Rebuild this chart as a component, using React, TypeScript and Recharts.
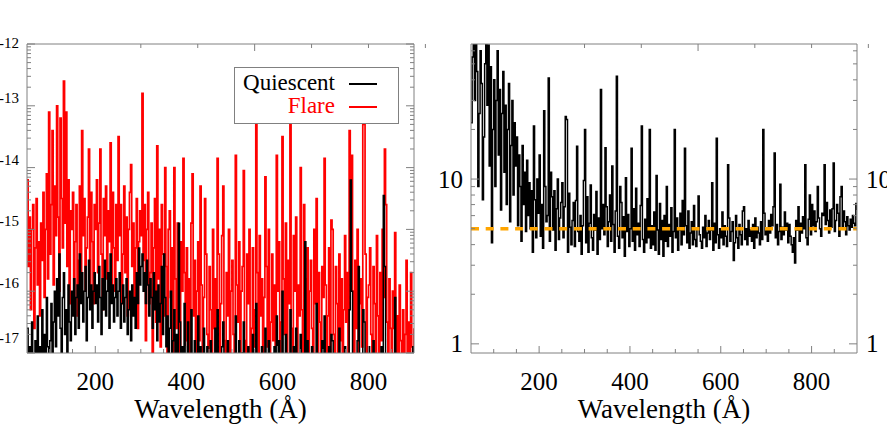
import React from 'react';
import { LineChart, Line, XAxis, YAxis, Label } from 'recharts';

const FONT = '"Liberation Serif", "Times New Roman", Times, serif';
const FRAME = '#808080';

// wavelength grids (Å)
const SPEC_START = 50;
const SPEC_STEP = 2.5;
const RATIO_START = 50;
const RATIO_STEP = 2.5;

// log10 flux, Flare spectrum (50 .. 900 Å, 2.5 Å bins)
const FLARE_LOG = [
  -14.2, -15.6, -14.8, -16.3, -15.0, -14.6, -16.6, -15.3, -14.5, -15.9, -15.2, -16.4, -14.9, -15.5, -14.4, -16.1, -15.0, -14.1, -15.8, -13.1,
  -15.4, -14.6, -13.4, -15.9, -14.3, -15.1, -13.0, -14.8, -16.0, -13.2, -14.5, -15.3, -12.6, -14.9, -13.1, -15.6, -14.2, -16.2, -14.7, -15.0,
  -14.4, -16.1, -15.2, -14.6, -16.4, -15.5, -14.3, -15.8, -13.4, -15.1, -14.5, -16.0, -15.3, -14.8, -13.7, -15.9, -14.4, -15.2, -16.2, -14.6,
  -15.0, -14.2, -15.7, -14.9, -13.7, -15.4, -16.3, -14.5, -15.1, -14.3, -15.8, -14.7, -15.2, -13.6, -15.9, -14.4, -15.3, -16.0, -14.6, -15.5,
  -13.5, -15.1, -14.6, -16.2, -15.4, -14.3, -15.7, -14.8, -16.4, -15.0, -14.4, -13.95, -15.6, -14.9, -16.1, -15.3, -14.5, -16.6, -15.2, -14.7,
  -15.1, -12.8, -15.5, -14.6, -16.8, -15.0, -14.4, -16.2, -15.7, -14.9, -17.3, -15.3, -14.5, -16.5, -13.65, -15.8, -15.0, -16.9, -14.6, -15.4,
  -16.4, -14.0, -15.6, -17.4, -15.0, -14.7, -16.1, -15.3, -17.2, -14.0, -15.8, -16.6, -14.9, -15.5, -17.5, -15.2, -16.0, -13.85, -15.7, -16.8,
  -15.3, -16.9, -15.8, -17.3, -14.9, -14.1, -16.4, -15.5, -17.6, -16.0, -15.2, -16.8, -14.3, -15.9, -17.2, -16.1, -14.5, -15.4, -16.7, -17.4,
  -15.6, -16.3, -17.5, -15.0, -16.6, -15.8, -16.9, -13.85, -15.4, -17.3, -16.2, -15.1, -14.3, -16.8, -17.6, -15.7, -16.4, -15.0, -17.2, -16.0,
  -15.5, -16.7, -17.4, -13.8, -15.9, -16.5, -15.2, -17.3, -16.0, -15.6, -14.05, -16.8, -17.5, -15.4, -16.2, -15.0, -17.1, -16.6, -15.3, -16.9,
  -16.3, -13.3, -15.7, -17.2, -15.1, -16.4, -15.8, -17.5, -16.1, -14.15, -15.6, -16.9, -15.0, -17.3, -16.5, -15.4, -16.8, -15.9, -17.4, -13.8,
  -16.0, -15.2, -17.1, -16.5, -13.5, -15.8, -16.7, -14.9, -17.4, -15.5, -16.2, -13.3, -16.6, -17.3, -15.1, -16.0, -14.8, -17.5, -15.9, -16.4,
  -14.0, -16.3, -17.2, -14.6, -15.8, -16.9, -15.3, -17.4, -16.0, -15.5, -16.6, -17.3, -15.0, -16.2, -14.5, -17.1, -15.7, -16.5, -17.5, -15.6,
  -16.1, -13.85, -15.9, -17.2, -16.4, -15.3, -17.5, -14.85, -15.0, -16.7, -17.3, -15.6, -16.2, -17.4, -15.4, -16.8, -15.8, -17.2, -16.3, -15.1,
  -16.5, -15.7, -17.1, -13.4, -15.2, -13.8, -16.0, -17.3, -15.5, -16.6, -15.0, -17.4, -16.2, -15.8, -16.9, -13.3, -13.3, -15.4, -17.2, -16.1,
  -15.9, -15.3, -16.7, -17.3, -15.6, -16.2, -17.5, -15.1, -16.4, -17.2, -15.7, -16.8, -15.0, -16.1, -13.7, -14.6, -16.5, -17.4, -15.8, -16.6,
  -17.3, -16.0, -16.6, -15.05, -17.1, -16.4, -17.5, -15.9, -16.8, -17.2, -16.3, -17.4, -16.7, -15.5, -17.2, -16.5, -17.6, -15.7, -16.9, -17.3, -16.6,
];

// log10 flux, Quiescent spectrum (50 .. 900 Å, 2.5 Å bins)
const QUIESCENT_LOG = [
  -16.6, -17.3, -16.9, -17.5, -16.5, -17.1, -17.6, -16.8, -17.2, -16.4, -17.4, -16.9, -17.0, -16.3, -17.5, -16.7, -17.2, -16.1, -16.9, -17.3,
  -16.8, -16.2, -17.1, -16.5, -16.0, -16.9, -15.8, -16.4, -15.4, -16.6, -17.0, -16.1, -15.7, -16.7, -16.3, -17.2, -15.9, -16.5, -16.8, -16.0,
  -16.4, -15.8, -16.7, -16.1, -15.9, -16.6, -15.4, -16.2, -15.7, -16.5, -16.0, -15.6, -16.8, -16.1, -15.5, -16.3, -15.9, -16.6, -16.0, -15.7,
  -16.2, -15.9, -16.5, -15.6, -16.1, -16.7, -15.8, -16.3, -15.5, -16.4, -16.0, -15.7, -16.6, -15.4, -16.2, -15.9, -16.5, -16.1, -15.8, -16.4,
  -16.0, -15.7, -16.6, -16.2, -15.9, -16.5, -16.1, -15.8, -16.7, -16.3, -16.0, -16.8, -15.9, -16.4, -16.1, -16.6, -15.7, -16.2, -15.3, -15.9,
  -15.6, -15.4, -16.0, -15.7, -16.2, -15.5, -15.9, -16.4, -15.8, -16.1, -16.6, -15.7, -16.3, -16.0, -16.8, -15.9, -16.5, -16.2, -15.6, -16.7,
  -15.4, -16.1, -16.9, -16.4, -17.2, -16.6, -16.0, -17.4, -16.8, -16.3, -17.1, -16.7, -17.5, -14.9, -16.5, -17.3, -16.9, -17.6, -16.2, -17.2,
  -17.4, -16.5, -17.6, -17.2, -16.3, -17.5, -17.3, -16.8, -17.6, -17.2, -16.4, -17.5, -16.9, -17.6, -17.3, -16.6, -17.4, -17.2, -16.9, -17.6,
  -17.3, -16.8, -17.6, -17.2, -17.5, -16.6, -17.4, -16.3, -17.6, -17.3, -17.1, -16.9, -16.5, -17.5, -17.6, -17.2, -16.8, -17.4, -17.6, -17.1,
  -17.3, -17.5, -17.6, -16.4, -17.2, -17.4, -16.8, -17.6, -17.3, -17.0, -16.5, -17.5, -17.6, -17.2, -16.9, -17.4, -17.6, -17.1, -16.7, -17.5,
  -17.4, -16.2, -17.5, -17.6, -17.1, -17.3, -16.9, -17.6, -17.4, -16.6, -17.2, -17.6, -16.8, -17.5, -17.3, -17.1, -17.6, -16.9, -17.5, -16.4,
  -17.2, -16.8, -17.6, -17.4, -16.0, -17.3, -17.5, -16.7, -17.6, -17.1, -17.4, -16.3, -17.5, -17.6, -16.9, -17.3, -16.6, -17.6, -17.2, -17.4,
  -16.7, -17.4, -17.6, -17.2, -15.2, -17.3, -16.8, -17.6, -17.4, -17.1, -16.9, -17.5, -17.3, -17.6, -16.2, -17.4, -17.1, -17.6, -17.5, -16.8,
  -17.2, -16.4, -17.5, -17.6, -17.3, -16.9, -17.6, -16.7, -16.8, -17.4, -17.6, -17.1, -17.3, -17.6, -16.6, -17.4, -17.2, -17.6, -17.5, -16.9,
  -17.4, -17.1, -17.6, -16.3, -14.2, -16.0, -17.3, -17.5, -17.2, -17.6, -16.8, -15.6, -17.4, -17.1, -17.6, -16.3, -16.5, -17.3, -17.6, -17.2,
  -16.9, -17.4, -17.6, -17.3, -16.8, -17.5, -17.6, -17.1, -17.4, -17.6, -17.2, -16.9, -17.5, -14.45, -15.6, -17.3, -17.6, -17.4, -17.1, -17.6,
  -17.5, -17.2, -17.6, -16.1, -17.4, -17.6, -17.3, -17.5, -17.6, -17.1, -17.4, -17.6, -17.3, -17.5, -17.6, -17.2, -17.4, -17.6, -17.3, -16.9, -17.5,
];

// Flare / Quiescent ratio (50 .. 900 Å, 2.5 Å bins)
const RATIO = [
  22, 55, 80, 30, 70, 45, 9, 25, 60, 38, 7.5, 18, 50, 85, 28, 65, 12, 48, 4.1, 20,
  40, 9, 30, 60, 14, 35, 6.5, 25, 45, 11, 28, 7, 20, 38, 5.5, 16, 30, 8, 22, 12,
  18, 5.2, 14, 9, 4.2, 16, 7, 11, 4.8, 13, 6, 9.5, 5, 8.5, 3.6, 21, 7.5, 4.4, 10, 6.2,
  14, 4.5, 7, 3.8, 26, 9, 5.5, 6, 41, 4.2, 11, 7.8, 4.9, 8.5, 3.7, 6.6, 10, 4.3, 5.8, 7.2,
  9.5, 4.4, 6.8, 24, 23, 3.6, 8.2, 5.1, 4.0, 5.6, 7.2, 3.9, 7.4, 15.8, 4.8, 4.2, 6.0, 3.5, 5.2, 9.8,
  20, 4.1, 7.8, 3.6, 5.4, 9.2, 4.4, 3.7, 6.1, 4.9, 8.4, 3.5, 5.8, 4.3, 35, 5.0, 7.0, 4.6, 15.5, 6.8,
  3.9, 5.5, 8.0, 4.2, 12.0, 5.3, 3.6, 6.4, 42, 4.5, 3.8, 9.0, 7.2, 4.4, 5.9, 3.4, 10.2, 4.8, 6.1, 3.9,
  5.0, 15.4, 4.2, 6.6, 3.7, 8.8, 4.6, 5.4, 3.9, 6.9, 21, 4.3, 3.6, 5.7, 4.1, 7.6, 4.4, 20, 3.8, 5.2,
  4.0, 6.3, 3.7, 10.5, 4.9, 3.5, 7.1, 4.3, 5.6, 3.4, 6.0, 4.2, 9.0, 3.9, 5.3, 4.5, 6.7, 3.6, 4.8, 20,
  4.4, 5.8, 3.7, 4.9, 6.2, 4.0, 7.4, 4.6, 15.4, 5.2, 4.1, 6.4, 3.8, 4.7, 5.5, 4.0, 6.9, 4.3, 3.9, 5.0,
  7.9, 4.6, 4.2, 3.8, 5.1, 4.4, 6.0, 3.9, 4.7, 5.6, 4.3, 4.9, 9.5, 3.7, 5.4, 4.1, 17.7, 4.6, 3.8, 5.0,
  4.4, 6.3, 4.0, 5.2, 4.5, 3.9, 12.2, 5.8, 4.2, 4.8, 5.5, 3.2, 4.1, 6.0, 4.4, 3.8, 5.3, 4.6, 4.0, 6.4,
  6.8, 4.3, 5.0, 4.0, 5.6, 4.5, 4.9, 4.2, 5.3, 3.8, 5.8, 4.4, 5.1, 4.7, 4.0, 5.5, 4.3, 20, 6.2, 4.6,
  5.0, 4.2, 5.6, 4.7, 6.1, 5.2, 6.8, 14.4, 4.4, 5.3, 4.0, 4.8, 9.3, 4.3, 5.1, 4.6, 6.3, 4.9, 5.4, 4.1,
  5.3, 4.5, 4.0, 3.6, 4.4, 3.1, 5.6, 4.9, 6.8, 4.2, 5.4, 4.7, 5.9, 5.0, 12.2, 4.4, 4.0, 5.7, 8.0, 4.6,
  7.0, 5.2, 6.4, 4.8, 5.5, 9.0, 5.8, 5.0, 4.5, 6.2, 6.0, 12.2, 5.3, 7.2, 5.6, 4.7, 6.5, 5.1, 6.6, 12.5,
  4.8, 5.6, 7.0, 6.2, 4.5, 7.8, 9.0, 5.0, 6.4, 5.5, 4.6, 5.9, 5.2, 4.9, 5.7, 5.1, 6.0, 5.4, 5.2, 7.1, 6.5,
];

// horizontal threshold level drawn over the ratio
const RATIO_THRESHOLD = 5;

// ticks
const X_TICKS = [100, 150, 200, 250, 300, 350, 400, 450, 500, 550, 600, 650, 700, 750, 800, 850];
const X_LABELS = [200, 400, 600, 800];
const LOG_DECADES = [-17, -16, -15, -14, -13, -12];
const LOG_MINORS = [2, 3, 4, 5, 6, 7, 8, 9];
const RATIO_TICKS = [1, 2, 3, 4, 5, 6, 7, 8, 9, 10, 20, 30, 40, 50, 60];
const RATIO_LABELS = [1, 10];

const LEFT_Y_TICKS: number[] = [];
LOG_DECADES.forEach((d, i) => {
  LEFT_Y_TICKS.push(d);
  if (i < LOG_DECADES.length - 1) LOG_MINORS.forEach((m) => LEFT_Y_TICKS.push(d + Math.log10(m)));
});

const SPEC_DATA = FLARE_LOG.map((f, i) => ({
  w: SPEC_START + i * SPEC_STEP,
  f,
  q: QUIESCENT_LOG[i],
}));
const RATIO_DATA = RATIO.map((r, i) => ({ w: RATIO_START + i * RATIO_STEP, r, t: RATIO_THRESHOLD }));

const XTickBottom = (props: any) => {
  const { x, y, payload } = props;
  const v = payload.value;
  const major = X_LABELS.includes(v);
  return (
    <g>
      <line x1={x} x2={x} y1={y} y2={y - (major ? 7 : 4)} stroke={FRAME} />
      {major && (
        <text x={x} y={y + 37} textAnchor="middle" fontSize={25} fontFamily={FONT} fill="#000">
          {v}
        </text>
      )}
    </g>
  );
};

const XTickTop = (props: any) => {
  const { x, y, payload } = props;
  const major = X_LABELS.includes(payload.value);
  return <line x1={x} x2={x} y1={y} y2={y + (major ? 7 : 4)} stroke={FRAME} />;
};

const LeftLogTick = (props: any) => {
  const { x, y, payload } = props;
  const v = payload.value;
  const major = Math.abs(v - Math.round(v)) < 1e-9;
  const dy = v === -12 ? -1 : v === -17 ? -15 : -8;
  return (
    <g>
      <line x1={x} x2={x + (major ? 8 : 4)} y1={y} y2={y} stroke={FRAME} />
      {major && (
        <text x={x - 8} y={y + dy} dominantBaseline="central" textAnchor="end" fontSize={15} fontFamily={FONT} fill="#000">
          {Math.round(v)}
        </text>
      )}
    </g>
  );
};

const RightLogTickNoLabel = (props: any) => {
  const { x, y, payload } = props;
  const v = payload.value;
  const major = Math.abs(v - Math.round(v)) < 1e-9;
  return <line x1={x} x2={x - (major ? 8 : 4)} y1={y} y2={y} stroke={FRAME} />;
};

const RatioTickLeft = (props: any) => {
  const { x, y, payload } = props;
  const v = payload.value;
  const major = RATIO_LABELS.includes(v);
  return (
    <g>
      <line x1={x} x2={x + (major ? 8 : 4)} y1={y} y2={y} stroke={FRAME} />
      {major && (
        <text x={x - 8} y={y} dominantBaseline="central" textAnchor="end" fontSize={25} fontFamily={FONT} fill="#000">
          {v}
        </text>
      )}
    </g>
  );
};

const RatioTickRight = (props: any) => {
  const { x, y, payload } = props;
  const v = payload.value;
  const major = RATIO_LABELS.includes(v);
  return (
    <g>
      <line x1={x} x2={x - (major ? 8 : 4)} y1={y} y2={y} stroke={FRAME} />
      {major && (
        <text x={x + 9} y={y} dominantBaseline="central" textAnchor="start" fontSize={25} fontFamily={FONT} fill="#000">
          {v}
        </text>
      )}
    </g>
  );
};

const axisLine = { stroke: FRAME, strokeWidth: 1 };

const xAxisLabel = (
  <Label value="Wavelength (Å)" position="insideBottom" offset={25} fontSize={27} fontFamily={FONT} fill="#000" />
);

export default function App() {
  return (
    <div style={{ position: 'absolute', left: 0, top: 0, width: 887, height: 443, background: '#fff', fontFamily: FONT }}>
      <div style={{ position: 'absolute', left: 0, top: 0 }}>
        <LineChart width={443} height={443} data={SPEC_DATA} margin={{ top: 0, right: 0, bottom: 0, left: 0 }}>
          <XAxis
            dataKey="w"
            type="number"
            domain={[50, 900]}
            allowDataOverflow
            ticks={X_TICKS}
            interval={0}
            tickSize={0}
            tickMargin={0}
            tickLine={false}
            axisLine={axisLine}
            tick={XTickBottom}
            height={90}
          >
            {xAxisLabel}
          </XAxis>
          <XAxis
            xAxisId="top"
            orientation="top"
            type="number"
            domain={[50, 900]}
            allowDataOverflow
            ticks={X_TICKS}
            interval={0}
            tickSize={0}
            tickMargin={0}
            tickLine={false}
            axisLine={axisLine}
            tick={XTickTop}
            height={44}
          />
          <YAxis
            type="number"
            domain={[-17, -12]}
            allowDataOverflow
            ticks={LEFT_Y_TICKS}
            interval={0}
            tickSize={0}
            tickMargin={0}
            tickLine={false}
            axisLine={axisLine}
            tick={LeftLogTick}
            width={27}
          />
          <YAxis
            yAxisId="r"
            orientation="right"
            type="number"
            domain={[-17, -12]}
            allowDataOverflow
            ticks={LEFT_Y_TICKS}
            interval={0}
            tickSize={0}
            tickMargin={0}
            tickLine={false}
            axisLine={axisLine}
            tick={RightLogTickNoLabel}
            width={29}
          />
          <Line dataKey="f" type="stepAfter" stroke="#FF0000" strokeWidth={1.7} dot={false} isAnimationActive={false} />
          <Line dataKey="q" type="stepAfter" stroke="#000000" strokeWidth={1.5} dot={false} isAnimationActive={false} />
        </LineChart>
      </div>

      <div
        style={{
          position: 'absolute',
          left: 234,
          top: 67,
          width: 165,
          height: 57,
          border: `1px solid ${FRAME}`,
          background: '#fff',
          boxSizing: 'border-box',
        }}
      >
        <svg width={163} height={55} style={{ display: 'block' }}>
          <text x={100} y={22} textAnchor="end" fontSize={23} fontFamily={FONT} fill="#000">
            Quiescent
          </text>
          <line x1={114} x2={142} y1={16} y2={16} stroke="#000" strokeWidth={2} />
          <text x={100} y={45} textAnchor="end" fontSize={23} fontFamily={FONT} fill="#FF0000">
            Flare
          </text>
          <line x1={114} x2={142} y1={39} y2={39} stroke="#FF0000" strokeWidth={2} />
        </svg>
      </div>

      <div style={{ position: 'absolute', left: 420, top: 0 }}>
        <LineChart width={467} height={443} data={RATIO_DATA} margin={{ top: 0, right: 0, bottom: 0, left: 0 }}>
          <XAxis
            dataKey="w"
            type="number"
            domain={[50, 900]}
            allowDataOverflow
            ticks={X_TICKS}
            interval={0}
            tickSize={0}
            tickMargin={0}
            tickLine={false}
            axisLine={axisLine}
            tick={XTickBottom}
            height={90}
          >
            {xAxisLabel}
          </XAxis>
          <XAxis
            xAxisId="top"
            orientation="top"
            type="number"
            domain={[50, 900]}
            allowDataOverflow
            ticks={X_TICKS}
            interval={0}
            tickSize={0}
            tickMargin={0}
            tickLine={false}
            axisLine={axisLine}
            tick={XTickTop}
            height={44}
          />
          <YAxis
            type="number"
            scale="log"
            domain={[0.88, 66]}
            allowDataOverflow
            ticks={RATIO_TICKS}
            interval={0}
            tickSize={0}
            tickMargin={0}
            tickLine={false}
            axisLine={axisLine}
            tick={RatioTickLeft}
            width={51}
          />
          <YAxis
            yAxisId="r"
            orientation="right"
            type="number"
            scale="log"
            domain={[0.88, 66]}
            allowDataOverflow
            ticks={RATIO_TICKS}
            interval={0}
            tickSize={0}
            tickMargin={0}
            tickLine={false}
            axisLine={axisLine}
            tick={RatioTickRight}
            width={30}
          />
          <Line dataKey="r" type="stepAfter" stroke="#000000" strokeWidth={1.5} dot={false} isAnimationActive={false} />
          <Line
            dataKey="t"
            type="linear"
            stroke="#FFA500"
            strokeWidth={3.5}
            strokeDasharray="8 6.7"
            dot={false}
            activeDot={false}
            isAnimationActive={false}
          />
        </LineChart>
      </div>
    </div>
  );
}
